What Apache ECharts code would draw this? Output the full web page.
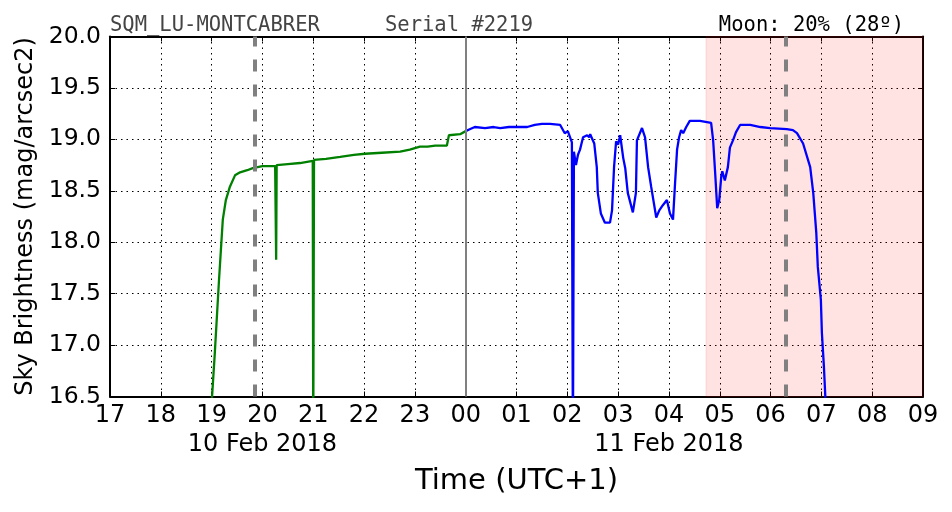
<!DOCTYPE html>
<html>
<head>
<meta charset="utf-8">
<script src="https://cdn.jsdelivr.net/npm/echarts@6/dist/echarts.min.js"></script>
<style>html,body{margin:0;padding:0;background:#fff}#c{width:952px;height:512px}</style>
</head>
<body>
<div id="c"></div>
<script>
// Time in hours since 10 Feb 2018 00:00 (UTC+1); values in mag/arcsec2
const greenData = [
  [18.97,16.2],[19.06,16.9],[19.145,17.63],[19.22,18.22],[19.28,18.41],[19.36,18.54],[19.46,18.65],
  [19.56,18.68],[19.70,18.70],[19.81,18.72],[20.0,18.74],[20.25,18.74],[20.26,18.74],[20.27,17.83],
  [20.28,18.75],[20.50,18.76],[20.74,18.77],[20.99,18.79],[21.0,16.0],[21.015,18.80],[21.25,18.81],
  [21.53,18.83],[21.80,18.85],[22.02,18.86],[22.35,18.87],[22.71,18.88],[22.90,18.90],[23.10,18.93],
  [23.25,18.93],[23.40,18.94],[23.63,18.94],[23.67,19.04],[23.89,19.05],[24.0,19.08]
];
const blueData = [
  [24.0,19.08],[24.09,19.10],[24.18,19.12],[24.38,19.11],[24.55,19.12],[24.68,19.11],[24.85,19.12],
  [24.97,19.12],[25.21,19.12],[25.36,19.14],[25.50,19.15],[25.66,19.15],[25.86,19.14],[25.95,19.06],
  [26.01,19.08],[26.09,18.97],[26.11,16.0],[26.13,18.88],[26.17,18.75],[26.21,18.85],[26.25,18.90],
  [26.31,19.02],[26.39,19.04],[26.43,19.02],[26.45,19.05],[26.53,18.96],[26.58,18.73],[26.60,18.48],
  [26.66,18.28],[26.74,18.19],[26.84,18.19],[26.88,18.31],[26.92,18.73],[26.96,18.98],[27.00,18.95],
  [27.04,19.04],[27.10,18.82],[27.14,18.72],[27.19,18.48],[27.29,18.29],[27.35,18.48],[27.37,18.99],
  [27.47,19.11],[27.53,19.02],[27.59,18.73],[27.65,18.54],[27.75,18.24],[27.81,18.31],[27.88,18.36],
  [27.96,18.41],[28.02,18.28],[28.08,18.22],[28.12,18.57],[28.16,18.90],[28.20,19.02],[28.24,19.09],
  [28.28,19.06],[28.34,19.12],[28.41,19.18],[28.61,19.18],[28.83,19.16],[28.87,18.99],[28.91,18.67],
  [28.95,18.33],[28.99,18.41],[29.03,18.64],[29.05,18.69],[29.10,18.60],[29.16,18.73],[29.20,18.92],
  [29.26,18.99],[29.32,19.07],[29.40,19.14],[29.60,19.14],[29.80,19.12],[29.99,19.11],[30.32,19.10],
  [30.44,19.09],[30.52,19.06],[30.64,18.96],[30.78,18.73],[30.84,18.48],[30.90,18.09],[30.93,17.76],
  [30.99,17.44],[31.01,17.12],[31.05,16.79],[31.09,16.37]
];
const moonMarkTimes = [19.85, 30.30];
const midnightTime = [24];
const moonShade = [28.73, 33];
const xRange = [17, 33];
const yRange = [16.5, 20.0];
const dateLabels = {20: '10 Feb 2018', 28: '11 Feb 2018'};
const titleTexts = ['SQM_LU-MONTCABRER', 'Serial #2219', 'Moon: 20% (28º)'];

const chart = echarts.init(document.getElementById('c'), null, {renderer: 'canvas'});
const F = 'DejaVu Sans';
function hourLabel(v) {
  const h = ((Math.round(v) % 24) + 24) % 24;
  const s = String(h).padStart(2, '0');
  return dateLabels[Math.round(v)] ? s + '\n' + dateLabels[Math.round(v)] : s;
}
const gridLine = {show: true, lineStyle: {color: '#000', type: [1.5, 4], width: 1}};
const monoTitle = (color) => ({fontFamily: 'DejaVu Sans Mono', fontSize: 20.5, fontWeight: 'normal', color: color});
chart.setOption({
  animation: false,
  title: [
    {text: titleTexts[0], left: 110, top: 15, padding: 0, textStyle: monoTitle('#444')},
    {text: titleTexts[1], left: 385, top: 15, padding: 0, textStyle: monoTitle('#444')},
    {text: titleTexts[2], right: 48, top: 15, padding: 0, textStyle: monoTitle('#000')}
  ],
  grid: {left: 110, right: 29, top: 36.5, bottom: 115.5, containLabel: false},
  xAxis: [{
    type: 'value', min: xRange[0], max: xRange[1], interval: 1, position: 'bottom',
    name: 'Time (UTC+1)', nameLocation: 'middle', nameGap: 70,
    nameTextStyle: {fontFamily: F, fontSize: 29, color: '#000'},
    axisLine: {show: true, onZero: false, lineStyle: {color: '#000', width: 2}},
    axisTick: {show: true, inside: true, length: 5, lineStyle: {color: '#000', width: 1}},
    axisLabel: {formatter: hourLabel, fontFamily: F, fontSize: 24, color: '#000', margin: 5, lineHeight: 29, showMinLabel: true, showMaxLabel: true, hideOverlap: false},
    splitLine: gridLine
  }, {
    type: 'value', min: xRange[0], max: xRange[1], interval: 1, position: 'top',
    axisLine: {show: true, onZero: false, lineStyle: {color: '#000', width: 2}},
    axisTick: {show: true, inside: true, length: 5, lineStyle: {color: '#000', width: 1}},
    axisLabel: {show: false}, splitLine: {show: false}
  }],
  yAxis: [{
    type: 'value', min: yRange[0], max: yRange[1], interval: 0.5, position: 'left',
    name: 'Sky Brightness (mag/arcsec2)', nameLocation: 'middle', nameGap: 69,
    nameTextStyle: {fontFamily: F, fontSize: 24, color: '#000'},
    axisLine: {show: true, onZero: false, lineStyle: {color: '#000', width: 2}},
    axisTick: {show: true, inside: true, length: 5, lineStyle: {color: '#000', width: 1}},
    axisLabel: {formatter: v => v.toFixed(1), fontFamily: F, fontSize: 23.5, color: '#000', margin: 9, showMinLabel: true, showMaxLabel: true},
    splitLine: gridLine
  }, {
    type: 'value', min: yRange[0], max: yRange[1], interval: 0.5, position: 'right',
    axisLine: {show: true, onZero: false, lineStyle: {color: '#000', width: 2}},
    axisTick: {show: true, inside: true, length: 5, lineStyle: {color: '#000', width: 1}},
    axisLabel: {show: false}, splitLine: {show: false}
  }],
  series: [
    {
      type: 'line', data: [], z: 1, silent: true,
      markArea: {silent: true, itemStyle: {color: 'rgba(255,0,0,0.115)', borderColor: 'rgba(255,0,0,0.12)', borderWidth: 1},
        data: [[{xAxis: moonShade[0]}, {xAxis: moonShade[1]}]]},
      markLine: {silent: true, symbol: 'none', label: {show: false},
        data: moonMarkTimes.map(t => ({xAxis: t, lineStyle: {color: '#808080', width: 4, type: [12, 13]}}))
          .concat(midnightTime.map(t => ({xAxis: t, lineStyle: {color: '#808080', width: 2, type: 'solid'}})))}
    },
    {type: 'line', data: greenData, showSymbol: false, symbol: 'none', clip: true, z: 3,
      lineStyle: {color: '#008000', width: 2.3}},
    {type: 'line', data: blueData, showSymbol: false, symbol: 'none', clip: true, z: 3,
      lineStyle: {color: '#0000ff', width: 2.3}}
  ]
});
</script>
</body>
</html>
